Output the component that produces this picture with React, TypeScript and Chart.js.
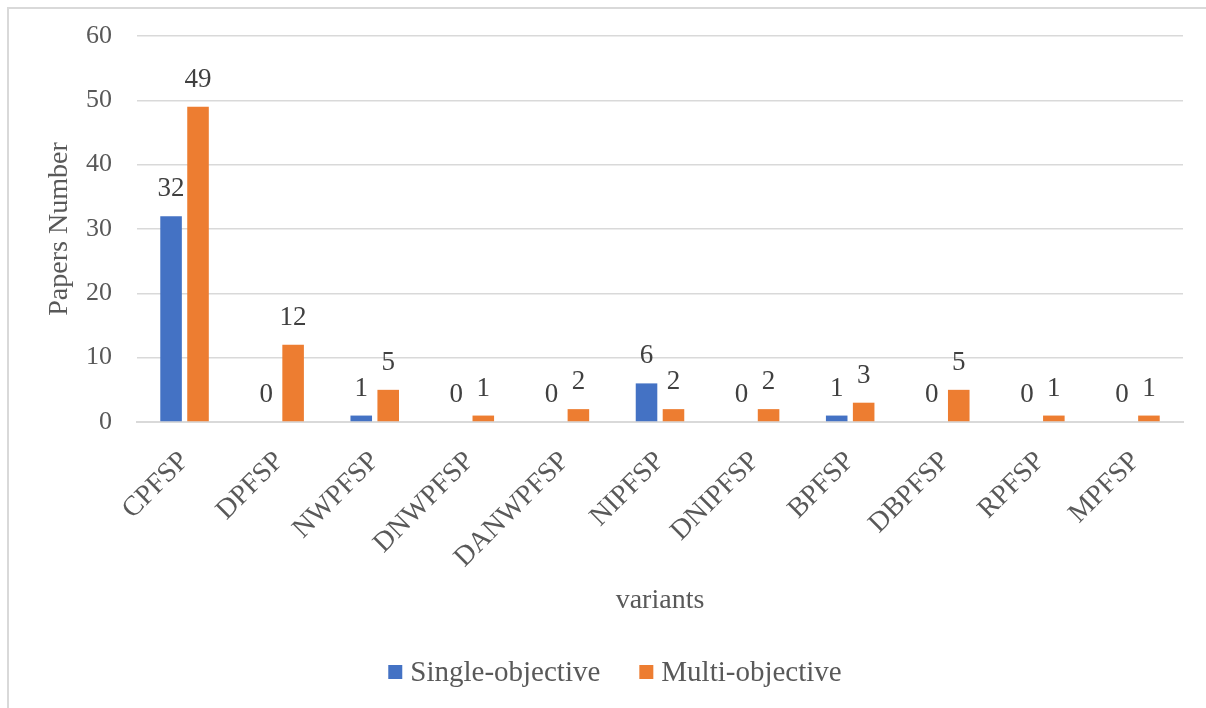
import React, { useEffect, useRef } from "react";
import { Chart, registerables } from "chart.js";

Chart.register(...registerables);

// Problem variants along the x axis
const categories = [
  "CPFSP",
  "DPFSP",
  "NWPFSP",
  "DNWPFSP",
  "DANWPFSP",
  "NIPFSP",
  "DNIPFSP",
  "BPFSP",
  "DBPFSP",
  "RPFSP",
  "MPFSP",
];

// Number of papers per variant
const singleObjective = [32, 0, 1, 0, 0, 6, 0, 1, 0, 0, 0];
const multiObjective = [49, 12, 5, 1, 2, 2, 2, 3, 5, 1, 1];

const yTicks = [0, 10, 20, 30, 40, 50, 60];

const SERIF = "'Liberation Serif', 'Times New Roman', serif";
const TEXT = "#595959";
const GRID = "#D9D9D9";

// Writes each bar's value just above its top
const valueLabels = {
  id: "valueLabels",
  afterDatasetsDraw(chart: any) {
    const { ctx } = chart;
    ctx.save();
    ctx.font = `27px ${SERIF}`;
    ctx.fillStyle = "#404040";
    ctx.textAlign = "center";
    ctx.textBaseline = "middle";
    chart.data.datasets.forEach((ds: any, i: number) => {
      const meta = chart.getDatasetMeta(i);
      meta.data.forEach((bar: any, j: number) => {
        ctx.fillText(String(ds.data[j]), bar.x, bar.y - 27);
      });
    });
    ctx.restore();
  },
};

// Legend row under the axis title: square swatch, then the series name
const bottomLegend = {
  id: "bottomLegend",
  afterDraw(chart: any) {
    const { ctx } = chart;
    const box = 14;
    const textGap = 8;
    const itemGap = 39;
    const cy = 672;
    const centerX = 615;
    ctx.save();
    ctx.font = `29px ${SERIF}`;
    ctx.textBaseline = "middle";
    ctx.textAlign = "left";
    const items = chart.data.datasets.map((ds: any) => ({
      label: ds.label as string,
      color: ds.backgroundColor as string,
      w: ctx.measureText(ds.label).width,
    }));
    const total =
      items.reduce((s: number, it: any) => s + box + textGap + it.w, 0) +
      itemGap * (items.length - 1);
    let x = centerX - total / 2;
    items.forEach((it: any) => {
      ctx.fillStyle = it.color;
      ctx.fillRect(x, cy - box / 2, box, box);
      ctx.fillStyle = TEXT;
      ctx.fillText(it.label, x + box + textGap, cy + 1);
      x += box + textGap + it.w + itemGap;
    });
    ctx.restore();
  },
};

export default function App() {
  const canvasRef = useRef<HTMLCanvasElement | null>(null);

  useEffect(() => {
    if (!canvasRef.current) return;
    const chart = new Chart(canvasRef.current, {
      type: "bar",
      data: {
        labels: categories,
        datasets: [
          {
            label: "Single-objective",
            data: singleObjective,
            backgroundColor: "#4472C4",
            categoryPercentage: 0.567,
            barPercentage: 0.8,
          },
          {
            label: "Multi-objective",
            data: multiObjective,
            backgroundColor: "#ED7D31",
            categoryPercentage: 0.567,
            barPercentage: 0.8,
          },
        ],
      },
      options: {
        animation: false,
        responsive: false,
        maintainAspectRatio: false,
        layout: { padding: { left: 0, right: 23, top: 36, bottom: 60 } },
        plugins: {
          legend: { display: false },
          tooltip: { enabled: false },
        },
        scales: {
          x: {
            grid: { display: false },
            border: { display: true, color: GRID, width: 2 },
            ticks: {
              color: TEXT,
              font: { family: SERIF, size: 28 },
              minRotation: 45,
              maxRotation: 45,
              padding: 15,
              autoSkip: false,
            },
            title: {
              display: true,
              text: "variants",
              color: TEXT,
              font: { family: SERIF, size: 28 },
              padding: { top: 0, bottom: 31 },
            },
            afterFit(scale: any) {
              scale.height = 226;
            },
          },
          y: {
            min: 0,
            max: 60,
            afterBuildTicks(scale: any) {
              scale.ticks = yTicks.map((v) => ({ value: v }));
            },
            grid: { color: GRID, lineWidth: 1.5, drawTicks: false },
            border: { display: false },
            ticks: {
              color: TEXT,
              font: { family: SERIF, size: 26 },
              padding: 25,
            },
            title: {
              display: true,
              text: "Papers Number",
              color: TEXT,
              font: { family: SERIF, size: 28 },
              padding: { top: 43, bottom: 0 },
            },
            afterFit(scale: any) {
              scale.width = 137;
              // the top label fits inside the layout padding already
              scale.paddingTop = 0;
              scale.paddingBottom = 0;
            },
          },
        },
      },
      plugins: [valueLabels, bottomLegend],
    } as any);
    return () => chart.destroy();
  }, []);

  return (
    <>
      <div
        style={{
          position: "fixed",
          left: 7,
          top: 7,
          width: 1199,
          height: 701,
          borderTop: `2px solid ${GRID}`,
          borderLeft: `2px solid ${GRID}`,
          boxSizing: "border-box",
        }}
      />
      <canvas
        ref={canvasRef}
        width={1206}
        height={708}
        style={{ position: "fixed", left: 0, top: 0, width: 1206, height: 708 }}
      />
    </>
  );
}
